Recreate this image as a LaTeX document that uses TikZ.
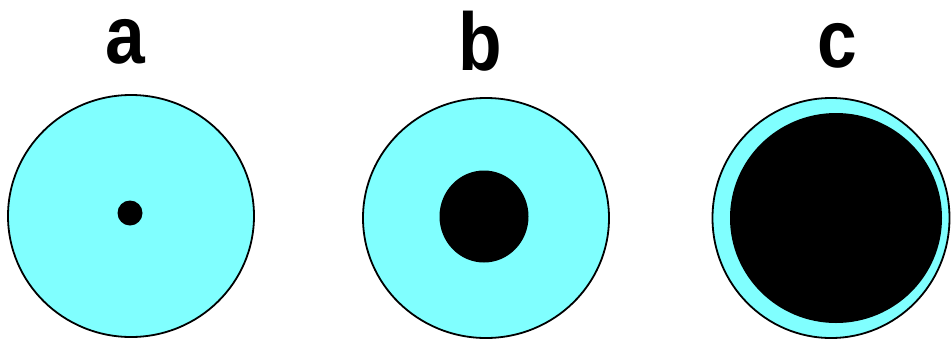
\documentclass[tikz,border=0pt]{standalone}
\usepackage{fontspec}
\setmainfont{Liberation Sans}
\definecolor{lightcyan}{RGB}{128,255,255}
\begin{document}
\begin{tikzpicture}[x=1pt,y=-1pt,
  outer/.style={draw=black,line width=1.8pt,fill=lightcyan},
  core/.style={fill=black},
  lab/.style={anchor=base,inner sep=0pt,font=\fontsize{82}{82}\bfseries\selectfont,xscale=0.87}]
\useasboundingbox[fill=white] (0,0) rectangle (951,341);
\node[lab] (la) at (125.5,63) {a};
\node[lab] (lb) at (480.5,70) {b};
\node[lab] (lc) at (837.5,67) {c};
\draw[outer] (131,216) ellipse [x radius=123,y radius=121];
\fill[core] (130,213) circle [radius=12.5];
\draw[outer] (486,218) ellipse [x radius=123,y radius=120];
\fill[core] (484,216.5) ellipse [x radius=44.5,y radius=46];
\draw[outer] (831,218) ellipse [x radius=118.5,y radius=120];
\fill[core] (836,218) ellipse [x radius=106,y radius=105];
\end{tikzpicture}
\end{document}
